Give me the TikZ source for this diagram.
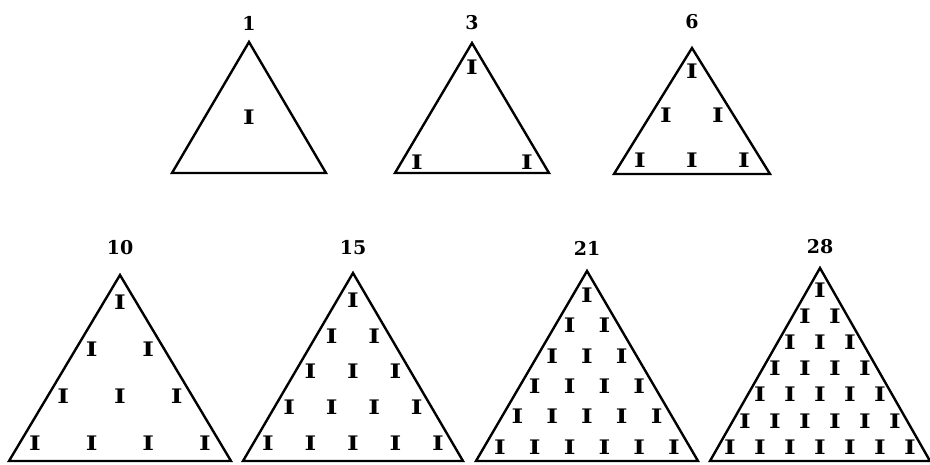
\documentclass[tikz,border=0pt]{standalone}
\usepackage{fontspec}
\setmainfont{DejaVu Serif}
\usetikzlibrary{calc}

\newcommand{\wideI}{\scalebox{1.25}[1]{I}}

\tikzset{
  tri/.style={line width=2.4pt, line join=miter},
  lbl/.style={font=\bfseries\fontsize{19}{19}\selectfont, inner sep=0pt},
  unit/.style={font=\bfseries\fontsize{20}{20}\selectfont, inner sep=0pt},
}

\begin{document}
\begin{tikzpicture}[x=1pt, y=-1pt]
  \useasboundingbox (0,0) rectangle (930,464);
  % 三角形数 1, 3, 6, 10, 15, 21, 28
  \foreach \num/\cx/\ly/\ay/\by/\hw/\ra/\rb/\ww/\nr in {
      1/249/23/42/173/77/117/117/0/1,
      3/472/23/43/173/77/67/162/55/2,
      6/692/22/48/174/78/71/160/52/3,
      10/120/248/275/461/111/302/443/85/4,
      15/353/248/273/461/110/300/443/85/5,
      21/587/248/271/461/111/295/447/87/6,
      28/820/247/268/461/110/290/447/90/7} {
    \coordinate (apex\num) at (\cx,\ay);
    \coordinate (bl\num) at (\cx-\hw,\by);
    \coordinate (br\num) at (\cx+\hw,\by);
    \draw[tri] (apex\num) -- (br\num) -- (bl\num) -- cycle;
    \node[lbl] (lbl\num) at (\cx,\ly) {\num};
    \pgfmathsetmacro{\dy}{(\rb-\ra)/max(\nr-1,1)}
    \pgfmathsetmacro{\dx}{2*\ww/max(\nr-1,1)}
    \foreach \row in {1,...,\nr} {
      \foreach \col in {1,...,\row} {
        \node[unit] (i\num-\row-\col) at ({\cx+(\col-(\row+1)/2)*\dx}, {\ra+(\row-1)*\dy}) {\wideI};
      }
    }
  }
\end{tikzpicture}
\end{document}
